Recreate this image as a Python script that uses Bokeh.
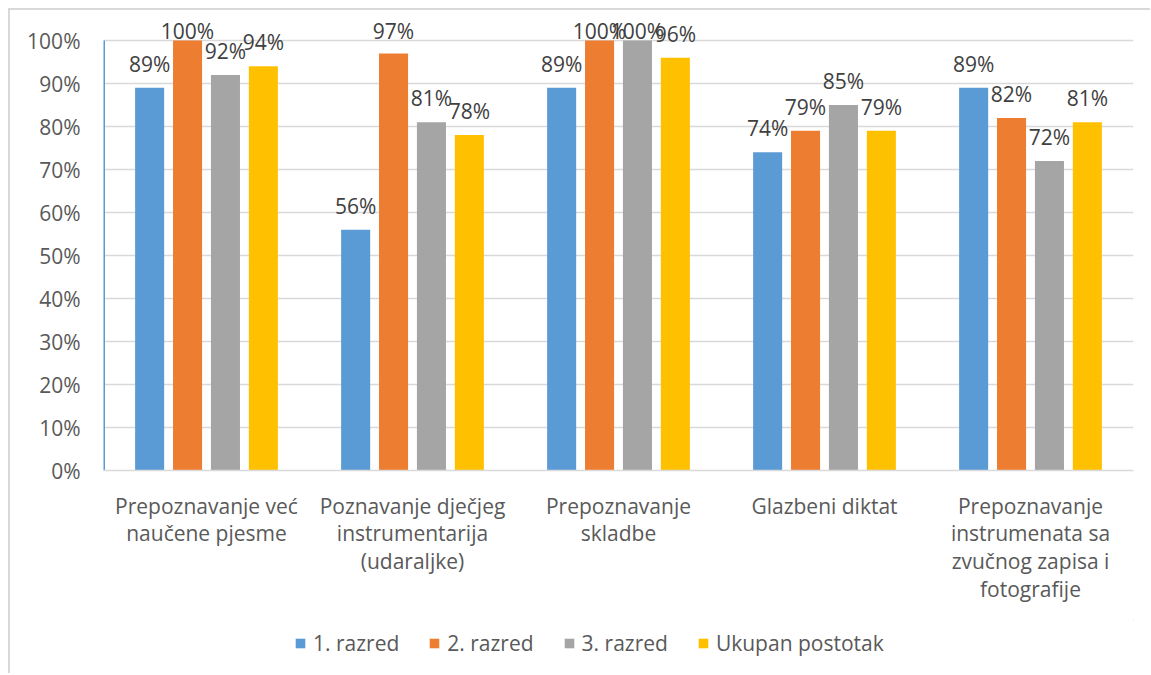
from bokeh.plotting import figure
from bokeh.models import (FactorRange, ColumnDataSource, LabelSet, Legend, LegendItem,
                          FixedTicker, NumeralTickFormatter)
from bokeh.core.properties import value
from bokeh.layouts import column
from bokeh.transform import dodge
from bokeh.embed import file_html
from bokeh.resources import INLINE

categories = ["Prepoznavanje već\nnaučene pjesme",
              "Poznavanje dječjeg\ninstrumentarija\n(udaraljke)",
              "Prepoznavanje\nskladbe",
              "Glazbeni diktat",
              "Prepoznavanje\ninstrumenata sa\nzvučnog zapisa i\nfotografije"]
series_names = ["1. razred", "2. razred", "3. razred", "Ukupan postotak"]
razred1 = [0.89, 0.56, 0.89, 0.74, 0.89]
razred2 = [1.00, 0.97, 1.00, 0.79, 0.82]
razred3 = [0.92, 0.81, 1.00, 0.85, 0.72]
ukupno = [0.94, 0.78, 0.96, 0.79, 0.81]
y_ticks = [0, 0.1, 0.2, 0.3, 0.4, 0.5, 0.6, 0.7, 0.8, 0.9, 1.0]

colors = ["#5B9BD5", "#ED7D31", "#A5A5A5", "#FFC000"]
offsets = [-0.276, -0.092, 0.092, 0.276]
FONT = "Open Sans"
TXT = "#595959"

W = 1140
H_MAIN, H_LEG = 610, 53
FRAME_H = 460
PX_PER_UNIT = 430


def label_offset(v):
    # keep labels inside the chart area like Excel does (near the top they are pushed down)
    return min(16, FRAME_H - 28 - v * PX_PER_UNIT)


p = figure(x_range=FactorRange(factors=categories), y_range=(0, FRAME_H / PX_PER_UNIT),
           width=W, height=H_MAIN, output_backend="svg", toolbar_location=None,
           min_border_left=93, min_border_right=W - 93 - 1030, min_border_top=0,
           min_border_bottom=H_MAIN - FRAME_H)
p.outline_line_color = None
p.background_fill_color = "white"

series = [razred1, razred2, razred3, ukupno]
data = dict(cat=categories)
for i, s in enumerate(series):
    data[f"s{i}"] = s
    data[f"l{i}"] = [f"{round(v*100)}%" for v in s]
    data[f"o{i}"] = [label_offset(v) for v in s]
source = ColumnDataSource(data)

# y axis line from 0% to 100% only
axis_src = ColumnDataSource(dict(cat=[categories[0]], y0=[y_ticks[0]], y1=[y_ticks[-1]]))
p.segment(x0=dodge("cat", -0.5, range=p.x_range), x1=dodge("cat", -0.5, range=p.x_range),
          y0="y0", y1="y1", source=axis_src, line_color="#5B9BD5", line_width=3)

for i, (name, col) in enumerate(zip(series_names, colors)):
    p.vbar(x=dodge("cat", offsets[i], range=p.x_range), top=f"s{i}", width=0.141,
           source=source, fill_color=col, line_color=None)
    lbl = LabelSet(x=dodge("cat", offsets[i], range=p.x_range), y=f"s{i}", text=f"l{i}",
                   source=source, text_align="center", text_baseline="alphabetic",
                   y_offset=f"o{i}",
                   text_font=value(FONT), text_font_size=value("21px"), text_color="#404040")
    p.add_layout(lbl)

p.yaxis.ticker = FixedTicker(ticks=y_ticks)
p.yaxis.formatter = NumeralTickFormatter(format="0%")
p.yaxis.major_tick_line_color = None
p.yaxis.minor_tick_line_color = None
p.yaxis.axis_line_color = None
p.yaxis.major_label_standoff = 17
p.yaxis.major_label_text_font = FONT
p.yaxis.major_label_text_font_size = "21px"
p.yaxis.major_label_text_color = TXT

p.xaxis.major_tick_line_color = None
p.xaxis.axis_line_color = "#d9d9d9"
p.xaxis.axis_line_width = 1.5
p.xaxis.major_label_standoff = 15
p.xaxis.major_label_text_font = FONT
p.xaxis.major_label_text_font_size = "21px"
p.xaxis.major_label_text_color = TXT
p.xaxis.major_label_text_line_height = 0.99

p.xgrid.grid_line_color = None
p.ygrid.grid_line_color = "#d9d9d9"
p.ygrid.grid_line_width = 1.5

# legend strip
p2 = figure(x_range=(0, 1), y_range=(0, 1), width=W, height=H_LEG, output_backend="svg",
            toolbar_location=None, min_border=0)
p2.axis.visible = False
p2.grid.grid_line_color = None
p2.outline_line_color = None
items = []
for name, col in zip(series_names, colors):
    r = p2.vbar(x=[5], top=[5], bottom=[4], width=0.1, fill_color=col, line_color=None)
    items.append(LegendItem(label=name, renderers=[r]))
legend = Legend(items=items, orientation="horizontal", location=(191, 16),
                padding=0, margin=0, spacing=29, glyph_width=12, glyph_height=12,
                label_standoff=7, label_text_font=FONT, label_text_font_size="21px",
                label_text_color=TXT, border_line_color=None, background_fill_alpha=0)
p2.add_layout(legend, "center")

layout = column(p, p2, spacing=0)
layout.styles = {"border-left": "2px solid #d9d9d9", "border-top": "2px solid #d9d9d9",
                 "margin-left": "8px", "margin-top": "8px"}

open("out.html", "w").write(file_html(layout, INLINE))
